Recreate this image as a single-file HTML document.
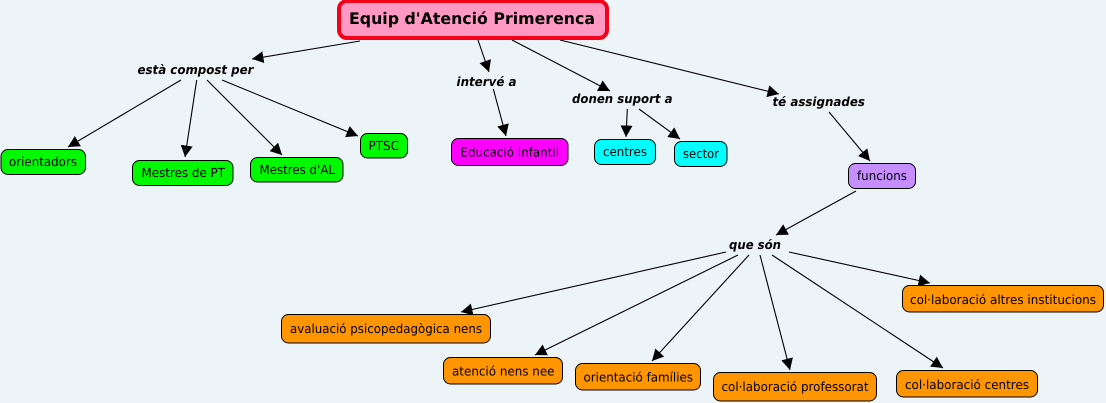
<!DOCTYPE html>
<html>
<head>
<meta charset="utf-8">
<style>
html,body{margin:0;padding:0;background:#edf4f7;}
svg{display:block;}
text{font-family:"DejaVu Sans","Liberation Sans",sans-serif;fill:#000;text-rendering:geometricPrecision;}
.n{font-size:12.5px;}
.l{font-size:12.5px;font-weight:bold;font-style:italic;}
.r{font-size:16px;font-weight:bold;}
rect{stroke:#000;stroke-width:1;}
line{stroke:#000;stroke-width:1.1;marker-end:url(#a);}
</style>
</head>
<body>
<svg width="1106" height="403" viewBox="0 0 1106 403" xmlns="http://www.w3.org/2000/svg">
<defs>
<marker id="a" markerUnits="userSpaceOnUse" markerWidth="14" markerHeight="14" refX="11.5" refY="6" orient="auto">
<polygon points="0,0 11.5,6 0,12" fill="#000"/>
</marker>
</defs>
<rect width="1106" height="403" fill="#edf4f7" style="stroke:none"/>

<line x1="360" y1="41" x2="252" y2="59"/>
<line x1="478" y1="40" x2="489" y2="72"/>
<line x1="512" y1="40" x2="610" y2="91"/>
<line x1="560" y1="40" x2="779" y2="94"/>
<line x1="181" y1="80" x2="68" y2="147"/>
<line x1="196.7" y1="80" x2="185" y2="157"/>
<line x1="207" y1="80" x2="282" y2="155"/>
<line x1="222" y1="80" x2="358" y2="136"/>
<line x1="493.3" y1="89" x2="506" y2="136"/>
<line x1="627.3" y1="109" x2="626" y2="137"/>
<line x1="639" y1="109" x2="680" y2="139"/>
<line x1="829" y1="112" x2="870" y2="161"/>
<line x1="856" y1="191" x2="776" y2="235"/>
<line x1="726" y1="252" x2="461" y2="312"/>
<line x1="738" y1="255" x2="535" y2="355"/>
<line x1="749" y1="255" x2="652" y2="361"/>
<line x1="760" y1="255" x2="790" y2="370"/>
<line x1="772" y1="255" x2="943" y2="368"/>
<line x1="789" y1="252" x2="930" y2="283"/>

<rect x="339" y="1" width="268" height="37" rx="8" ry="8" fill="#ff99c4" style="stroke:#f5001a;stroke-width:4"/>
<text class="r" x="349" y="24" textLength="246" lengthAdjust="spacingAndGlyphs">Equip d'Atenció Primerenca</text>

<text class="l" x="137.5" y="74" textLength="116" lengthAdjust="spacingAndGlyphs">està compost per</text>
<text class="l" x="456.5" y="86" textLength="60" lengthAdjust="spacingAndGlyphs">intervé a</text>
<text class="l" x="572" y="103" textLength="100.5" lengthAdjust="spacingAndGlyphs">donen suport a</text>
<text class="l" x="772.5" y="106" textLength="92.5" lengthAdjust="spacingAndGlyphs">té assignades</text>
<text class="l" x="729" y="249" textLength="52" lengthAdjust="spacingAndGlyphs">que són</text>

<rect x="1" y="149.5" width="84.5" height="25" rx="7" fill="#00f900"/>
<text class="n" x="9" y="166" textLength="68" lengthAdjust="spacingAndGlyphs">orientadors</text>
<rect x="132.5" y="160.5" width="100.5" height="25" rx="7" fill="#00f900"/>
<text class="n" x="141.5" y="177" textLength="83.5" lengthAdjust="spacingAndGlyphs">Mestres de PT</text>
<rect x="250.5" y="157.5" width="92.5" height="24.5" rx="7" fill="#00f900"/>
<text class="n" x="259.5" y="174" textLength="75.5" lengthAdjust="spacingAndGlyphs">Mestres d'AL</text>
<rect x="360.5" y="133.5" width="47" height="24.5" rx="7" fill="#00f900"/>
<text class="n" x="368.5" y="150" textLength="30.5" lengthAdjust="spacingAndGlyphs">PTSC</text>

<rect x="451.5" y="138.5" width="116.5" height="27" rx="7" fill="#ff00ff"/>
<text class="n" x="460.5" y="156.5" textLength="98.5" lengthAdjust="spacingAndGlyphs">Educació Infantil</text>
<rect x="594.5" y="139.5" width="61" height="25" rx="7" fill="#00ffff"/>
<text class="n" x="603" y="156" textLength="44" lengthAdjust="spacingAndGlyphs">centres</text>
<rect x="674.5" y="141.5" width="52.5" height="25" rx="7" fill="#00ffff"/>
<text class="n" x="683" y="158" textLength="36" lengthAdjust="spacingAndGlyphs">sector</text>
<rect x="848.5" y="163.5" width="67" height="25" rx="7" fill="#c68eff"/>
<text class="n" x="857" y="180" textLength="50" lengthAdjust="spacingAndGlyphs">funcions</text>

<rect x="281.5" y="314.5" width="209" height="28.5" rx="7" fill="#ff9500"/>
<text class="n" x="290" y="333" textLength="192" lengthAdjust="spacingAndGlyphs">avaluació psicopedagògica nens</text>
<rect x="443.5" y="357.5" width="119" height="26.5" rx="7" fill="#ff9500"/>
<text class="n" x="452" y="375.5" textLength="102.5" lengthAdjust="spacingAndGlyphs">atenció nens nee</text>
<rect x="575.5" y="363.5" width="125" height="26.5" rx="7" fill="#ff9500"/>
<text class="n" x="583.5" y="381.5" textLength="109.5" lengthAdjust="spacingAndGlyphs">orientació famílies</text>
<rect x="713.5" y="372.5" width="163" height="28.5" rx="7" fill="#ff9500"/>
<text class="n" x="721.5" y="391" textLength="147" lengthAdjust="spacingAndGlyphs">col·laboració professorat</text>
<rect x="896.5" y="370.5" width="141" height="26.5" rx="7" fill="#ff9500"/>
<text class="n" x="905" y="389" textLength="124" lengthAdjust="spacingAndGlyphs">col·laboració centres</text>
<rect x="902.5" y="285.5" width="201" height="26.5" rx="7" fill="#ff9500"/>
<text class="n" x="910" y="304" textLength="186" lengthAdjust="spacingAndGlyphs">col·laboració altres institucions</text>
</svg>
</body>
</html>
